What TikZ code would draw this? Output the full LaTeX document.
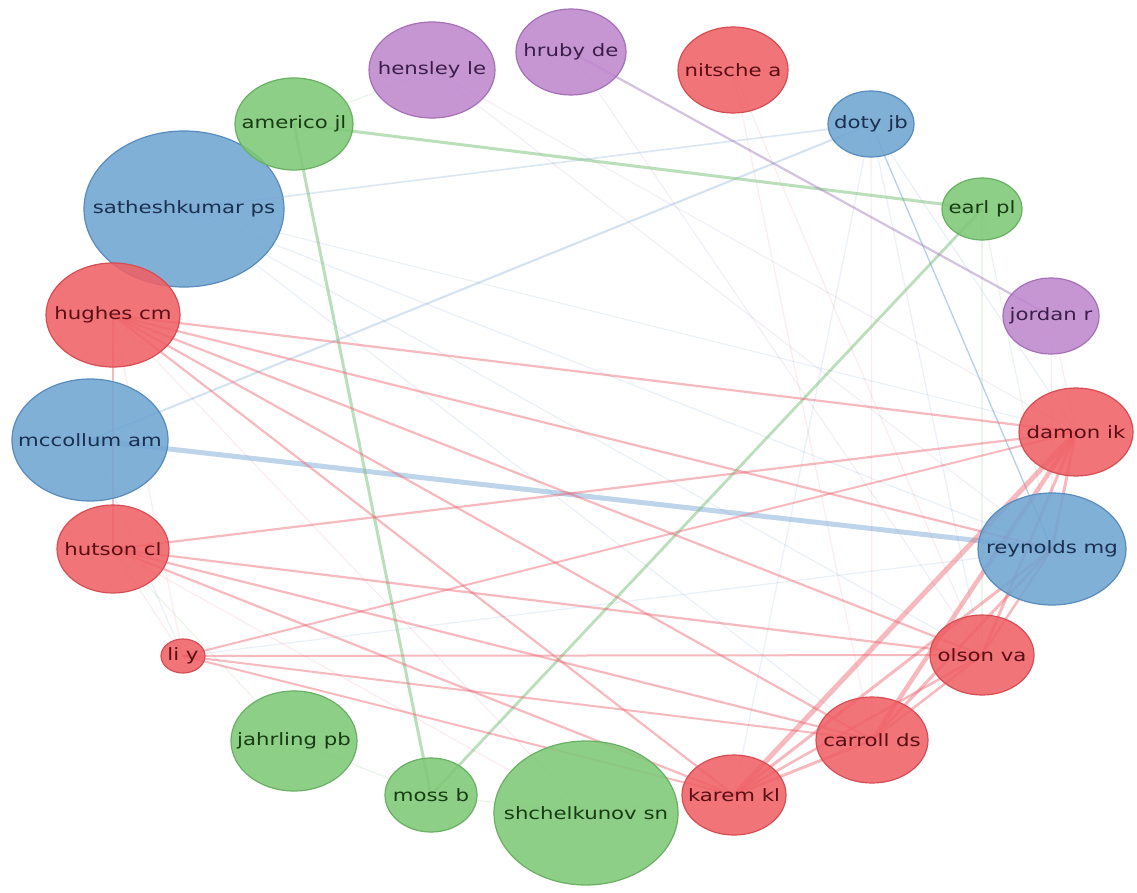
\documentclass[tikz,border=0pt]{standalone}
\usepackage{fontspec}
\newfontfamily\nodefont[FakeStretch=1.25]{DejaVu Sans}
\usetikzlibrary{shapes.geometric}
\pgfdeclarelayer{bg}
\pgfdeclarelayer{paper}
\pgfsetlayers{paper,bg,main}
\newcommand\zw[1]{\makebox[0pt]{#1}}
\definecolor{rfill}{RGB}{240,96,100}
\definecolor{rdraw}{RGB}{214,78,84}
\definecolor{rtext}{RGB}{90,14,20}
\definecolor{bfill}{RGB}{111,165,210}
\definecolor{bdraw}{RGB}{88,140,190}
\definecolor{btext}{RGB}{25,48,78}
\definecolor{gfill}{RGB}{126,200,118}
\definecolor{gdraw}{RGB}{104,176,98}
\definecolor{gtext}{RGB}{22,60,18}
\definecolor{pfill}{RGB}{190,135,205}
\definecolor{pdraw}{RGB}{165,112,185}
\definecolor{ptext}{RGB}{58,30,74}
\definecolor{cred}{RGB}{236,100,112}
\definecolor{cblue}{RGB}{110,160,210}
\definecolor{cgreen}{RGB}{120,190,120}
\definecolor{cpurple}{RGB}{160,120,190}
\begin{document}
\begin{tikzpicture}[x=1pt,y=-1pt,
  nd/.style={ellipse, inner sep=0pt, outer sep=0pt, line width=1.2pt, fill opacity=0.87, text opacity=1,
    font=\nodefont\fontsize{17}{17}\selectfont},
  rn/.style={nd, fill=rfill, draw=rdraw, text=rtext},
  bn/.style={nd, fill=bfill, draw=bdraw, text=btext},
  gn/.style={nd, fill=gfill, draw=gdraw, text=gtext},
  pn/.style={nd, fill=pfill, draw=pdraw, text=ptext},
  sz/.style 2 args={minimum width=#1pt, minimum height=#2pt},
  re/.style={draw=cred, draw opacity=0.45, line width=#1},
  re/.default=2.2pt,
  be/.style={draw=cblue, draw opacity=0.45, line width=#1},
  be/.default=1.5pt,
  ge/.style={draw=cgreen, draw opacity=0.5, line width=#1},
  ge/.default=3pt,
  pe/.style={draw=cpurple, draw opacity=0.45, line width=#1},
  pe/.default=2.2pt,
  fr/.style={draw=cred, draw opacity=0.12, line width=1.2pt},
  fb/.style={draw=cblue, draw opacity=0.15, line width=1.2pt},
  fg/.style={draw=cgreen, draw opacity=0.15, line width=1.2pt},
  fp/.style={draw=cpurple, draw opacity=0.12, line width=1.2pt}
]
\useasboundingbox (0,0) rectangle (1137,893);
\begin{pgfonlayer}{paper}
\fill[white] (0,0) rectangle (1137,893);
\end{pgfonlayer}

% nodes
\node[pn, sz={126}{96}] (hensley) at (432,70) {\zw{hensley le}};
\node[pn, sz={110}{86}] (hruby) at (571,52) {\zw{hruby de}};
\node[rn, sz={110}{86}] (nitsche) at (733,70) {\zw{nitsche a}};
\node[bn, sz={200}{156}] (sath) at (184,209) {\zw{satheshkumar ps}};
\node[gn, sz={118}{92}] (americo) at (294,124) {\zw{americo jl}};
\node[bn, sz={86}{66}] (doty) at (871,124) {\zw{doty jb}};
\node[gn, sz={80}{62}] (earl) at (982,209) {\zw{earl pl}};
\node[rn, sz={134}{104}] (hughes) at (113,315) {\zw{hughes cm}};
\node[pn, sz={96}{76}] (jordan) at (1051,316) {\zw{jordan r}};
\node[bn, sz={156}{122}] (mccollum) at (90,440) {\zw{mccollum am}};
\node[rn, sz={114}{88}] (damon) at (1076,432) {\zw{damon ik}};
\node[rn, sz={112}{88}] (hutson) at (113,549) {\zw{hutson cl}};
\node[bn, sz={148}{112}] (reynolds) at (1052,549) {\zw{reynolds mg}};
\node[rn, sz={44}{34}] (liy) at (183,656) {\zw{li y}};
\node[rn, sz={104}{80}] (olson) at (982,655) {\zw{olson va}};
\node[gn, sz={126}{100}] (jahrling) at (294,741) {\zw{jahrling pb}};
\node[rn, sz={112}{86}] (carroll) at (872,740) {\zw{carroll ds}};
\node[gn, sz={92}{74}] (moss) at (431,795) {\zw{moss b}};
\node[gn, sz={184}{144}] (shchel) at (586,813) {\zw{shchelkunov sn}};
\node[rn, sz={104}{80}] (karem) at (734,795) {\zw{karem kl}};

\begin{pgfonlayer}{bg}
% faint background web
\foreach \a/\b in {sath/damon, sath/reynolds, sath/olson, sath/carroll, liy/reynolds, mccollum/liy,
  doty/karem, doty/olson, doty/damon}
  \draw[fb] (\a.center) -- (\b.center);
\foreach \a/\b in {nitsche/olson, nitsche/carroll, liy/hutson, liy/hughes, hughes/shchel, hutson/shchel,
  doty/carroll, karem/shchel, damon/jordan}
  \draw[fr] (\a.center) -- (\b.center);
\foreach \a/\b in {jahrling/hutson, jahrling/moss, moss/shchel, earl/olson, earl/reynolds, americo/hensley}
  \draw[fg] (\a.center) -- (\b.center);
\foreach \a/\b in {hensley/damon, hensley/reynolds, hruby/olson, jordan/reynolds}
  \draw[fp] (\a.center) -- (\b.center);
% visible connectors
\draw[be=5pt] (mccollum.center) -- (reynolds.center);
\draw[be=2pt, draw opacity=0.3] (doty.center) -- (mccollum.center);
\draw[be=1.6pt, draw opacity=0.25] (doty.center) -- (sath.center);
\draw[be=1.3pt, draw opacity=0.5] (doty.center) -- (reynolds.center);
\draw[ge] (americo.center) -- (earl.center);
\draw[ge] (americo.center) -- (moss.center);
\draw[ge=2.8pt] (earl.center) -- (moss.center);
\draw[pe] (hruby.center) -- (jordan.center);
\foreach \b in {hutson, damon, reynolds, olson, carroll, karem}
  \draw[re] (hughes.center) -- (\b.center);
\foreach \b in {damon, olson, carroll, karem}
  \draw[re] (hutson.center) -- (\b.center);
\foreach \b in {damon, olson, carroll, karem}
  \draw[re=2pt] (liy.center) -- (\b.center);
\draw[re=5pt] (damon.center) -- (karem.center);
\draw[re=4.5pt] (damon.center) -- (carroll.center);
\draw[re=3pt] (damon.center) -- (olson.center);
\draw[re=3pt] (damon.center) -- (reynolds.center);
\draw[re=3pt] (reynolds.center) -- (karem.center);
\draw[re=3pt] (reynolds.center) -- (carroll.center);
\draw[re=2.5pt] (reynolds.center) -- (olson.center);
\draw[re=2.5pt] (olson.center) -- (carroll.center);
\draw[re=2.5pt] (olson.center) -- (karem.center);
\draw[re=3pt] (carroll.center) -- (karem.center);
\end{pgfonlayer}
\end{tikzpicture}
\end{document}
